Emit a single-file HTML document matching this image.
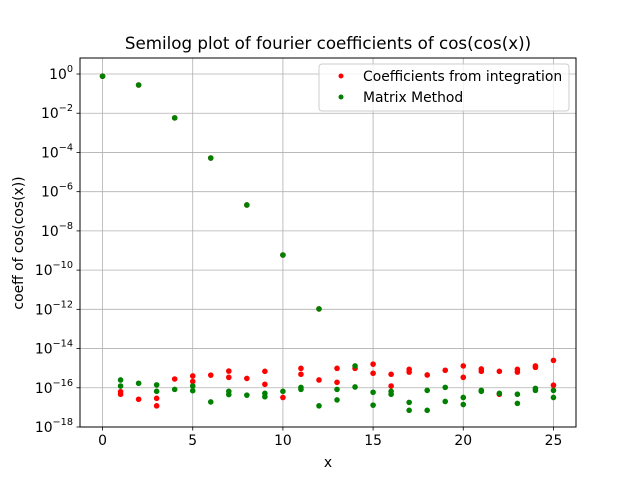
<!DOCTYPE html>
<html><head><meta charset="utf-8"><style>
body{margin:0;background:#fff}
svg{display:block;font-family:"DejaVu Sans","Liberation Sans",sans-serif}
</style></head><body>
<svg id="chart" width="640" height="480" viewBox="0 0 640 480">
<rect width="640" height="480" fill="#fff"/>
<g id="grid"></g>
<g id="axes"></g>
<g id="marks"></g>
<rect x="80" y="58" width="496" height="369" fill="none" stroke="#000" stroke-width="1"/>
<text x="328" y="49" font-size="16.7" text-anchor="middle">Semilog plot of fourier coefficients of cos(cos(x))</text>
<text x="328" y="467" font-size="13.9" text-anchor="middle">x</text>
<text transform="translate(23,243) rotate(-90)" font-size="13.9" text-anchor="middle">coeff of cos(cos(x))</text>
<g>
<rect x="319" y="64" width="250" height="47" rx="3" fill="#fff" fill-opacity="0.8" stroke="#ccc"/>
<circle cx="341" cy="76" r="2.5" fill="#ff0000"/>
<text x="363" y="81" font-size="13.9">Coefficients from integration</text>
<circle cx="341" cy="97" r="2.5" fill="#008000"/>
<text x="363" y="102" font-size="13.9">Matrix Method</text>
</g>
</svg>
<script>
const redX=[0,2,4,6,8,10,12,1,1,2,3,3,4,5,5,6,7,7,8,9,9,10,11,11,12,13,13,14,15,15,16,16,17,17,18,19,20,20,21,21,22,22,23,23,24,24,25,25];
const redY=[0.77,0.275,5.8e-3,5.2e-5,2.1e-7,5.9e-10,1.05e-12,6.3e-17,4.7e-17,2.6e-17,2.9e-17,1.2e-17,2.8e-16,4.0e-16,2.1e-16,4.4e-16,7.1e-16,3.4e-16,3.0e-16,6.9e-16,1.5e-16,3.2e-17,9.8e-16,4.9e-16,2.5e-16,9.8e-16,1.9e-16,9.8e-16,1.6e-15,5.5e-16,4.9e-16,1.23e-16,8.7e-16,6.3e-16,4.5e-16,7.8e-16,1.3e-15,3.4e-16,9.1e-16,6.9e-16,6.9e-16,4.7e-17,8.7e-16,6.3e-16,1.3e-15,1.1e-15,2.5e-15,1.35e-16];
const greenX=[0,2,4,6,8,10,12,1,1,2,3,3,4,5,5,6,7,7,8,9,9,10,11,11,12,13,13,14,14,15,15,16,16,17,17,18,18,19,19,20,20,21,21,22,23,23,24,24,25,25];
const greenY=[0.77,0.275,5.8e-3,5.2e-5,2.1e-7,5.9e-10,1.05e-12,2.5e-16,1.23e-16,1.7e-16,1.4e-16,6.6e-17,8.3e-17,1.23e-16,7.1e-17,1.9e-17,6.6e-17,4.5e-17,4.2e-17,5.2e-17,3.5e-17,6.6e-17,1.05e-16,8.3e-17,1.2e-17,8.3e-17,2.4e-17,1.3e-15,1.1e-16,5.9e-17,1.3e-17,6.6e-17,4.7e-17,1.8e-17,7.1e-18,7.4e-17,7.1e-18,1.05e-16,2.0e-17,3.2e-17,1.4e-17,7.4e-17,6.6e-17,5.2e-17,4.7e-17,1.6e-17,9.3e-17,7.4e-17,7.4e-17,3.2e-17];
const xTicks=[0,5,10,15,20,25];
const yTickExps=[0,-2,-4,-6,-8,-10,-12,-14,-16,-18];

const L=80,R=576,T=58,B=427;
const xMin=-1.25,xMax=26.25,yMinE=-18,yMaxE=0.816;
function sx(v){return L+(v-xMin)/(xMax-xMin)*(R-L);}
function sy(v){const e=Math.log10(v);return B-(e-yMinE)/(yMaxE-yMinE)*(B-T);}
const NS="http://www.w3.org/2000/svg";
function mk(tag,attrs,parent){const e=document.createElementNS(NS,tag);for(const k in attrs)e.setAttribute(k,attrs[k]);parent.appendChild(e);return e;}
const grid=document.getElementById('grid'),axes=document.getElementById('axes'),marks=document.getElementById('marks');
xTicks.forEach(t=>{
  const x=sx(t);
  const g=mk('line',{x1:x,x2:x,y1:T,y2:B,stroke:'#b0b0b0','stroke-width':0.8},grid);
  
  
  const tk=mk('line',{x1:x,x2:x,y1:B,y2:B+3.5,stroke:'#000','stroke-width':0.8},axes);
  
  
  const lb=mk('text',{x:x,y:B+18,'font-size':13.9,'text-anchor':'middle'},axes);
  lb.textContent=String(t);
  
  
});
yTickExps.forEach(e=>{
  const y=sy(Math.pow(10,e));
  const g=mk('line',{x1:L,x2:R,y1:y,y2:y,stroke:'#b0b0b0','stroke-width':0.8},grid);
  
  
  const tk=mk('line',{x1:L-3.5,x2:L,y1:y,y2:y,stroke:'#000','stroke-width':0.8},axes);
  
  
  const lb=mk('text',{x:L-7,y:y+5,'font-size':13.9,'text-anchor':'end'},axes);
  
  
  const b=mk('tspan',{},lb);b.textContent='10';
  const s=mk('tspan',{dy:-7,'font-size':9.7},lb);s.textContent=(e<0?'\u2212'+(-e):String(e));
});
function drawSeries(xs,ys,color,name){
  xs.forEach((xv,i)=>{
    const c=mk('circle',{cx:sx(xv),cy:sy(ys[i]),r:2.8,fill:color},marks);
    
    
  });
}
drawSeries(redX,redY,'#ff0000','integration-point');
drawSeries(greenX,greenY,'#008000','matrix-point');
</script>
</body></html>
